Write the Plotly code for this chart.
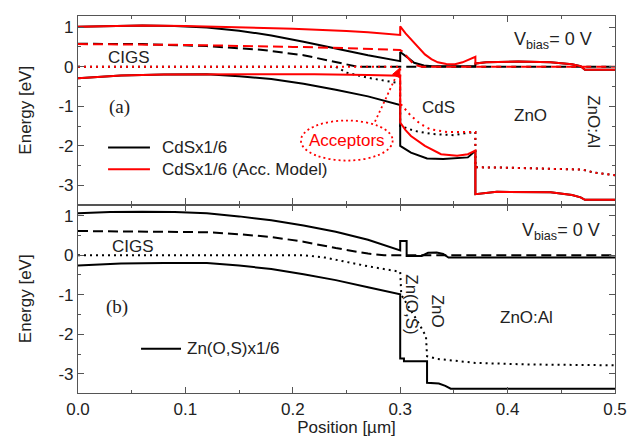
import plotly.graph_objects as go
from plotly.subplots import make_subplots

# ---------------- Panel (a): CdSx1/6 (black) ----------------
a_blk_ec_x = [0, 0.03, 0.06, 0.09, 0.12, 0.15, 0.18, 0.21, 0.24, 0.27, 0.30, 0.30, 0.307, 0.313, 0.322, 0.33, 0.37,
              0.37, 0.38, 0.41, 0.44, 0.46, 0.468, 0.472, 0.50]
a_blk_ec_y = [1.01, 1.03, 1.04, 1.03, 0.99, 0.91, 0.79, 0.63, 0.46, 0.29, 0.14, 0.37, 0.23, 0.10, 0.03, 0.01, 0.01,
              0.08, 0.11, 0.13, 0.11, 0.06, 0.01, -0.08, -0.08]
a_blk_dash_x = [0, 0.06, 0.12, 0.17, 0.21, 0.24, 0.255, 0.26, 0.50]
a_blk_dash_y = [0.58, 0.57, 0.52, 0.43, 0.29, 0.12, 0.02, 0.0, 0.0]
a_blk_dot_x = [0, 0.24, 0.25, 0.27, 0.30, 0.30, 0.305, 0.313, 0.33, 0.35, 0.36, 0.37, 0.37, 0.40, 0.47, 0.48, 0.50]
a_blk_dot_y = [0, 0, -0.15, -0.28, -0.42, -1.50, -1.54, -1.62, -1.70, -1.73, -1.68, -1.65, -2.54, -2.55, -2.60, -2.67, -2.74]
a_blk_ev_x = [0, 0.04, 0.08, 0.12, 0.15, 0.18, 0.21, 0.24, 0.27, 0.30, 0.30, 0.31, 0.325, 0.34, 0.363, 0.37,
              0.37, 0.39, 0.44, 0.46, 0.468, 0.472, 0.50]
a_blk_ev_y = [-0.29, -0.22, -0.20, -0.19, -0.24, -0.31, -0.43, -0.58, -0.75, -0.97, -2.00, -2.17, -2.32, -2.33, -2.29, -2.12,
              -3.22, -3.16, -3.17, -3.24, -3.30, -3.36, -3.36]

# ---------------- Panel (a): CdSx1/6 (Acc. Model) (red) ----------------
a_red_ec_x = [0, 0.03, 0.06, 0.10, 0.15, 0.20, 0.25, 0.27, 0.30, 0.30, 0.305, 0.31, 0.317, 0.323, 0.329, 0.335, 0.343,
              0.351, 0.358, 0.363, 0.37, 0.37, 0.38, 0.41, 0.44, 0.46, 0.468, 0.472, 0.50]
a_red_ec_y = [1.01, 1.03, 1.04, 1.03, 1.00, 0.96, 0.90, 0.87, 0.80, 1.02, 0.84, 0.69, 0.48, 0.31, 0.19, 0.11, 0.07,
              0.06, 0.11, 0.17, 0.25, 0.08, 0.11, 0.13, 0.11, 0.06, 0.01, -0.08, -0.08]
a_red_dash_x = [0, 0.10, 0.20, 0.25, 0.30, 0.303, 0.308, 0.313, 0.32, 0.50]
a_red_dash_y = [0.57, 0.55, 0.50, 0.47, 0.42, 0.37, 0.20, 0.05, 0.0, 0.0]
a_red_dot_x = [0, 0.30, 0.30, 0.31, 0.319, 0.328, 0.344, 0.37, 0.37, 0.40, 0.47, 0.48, 0.50]
a_red_dot_y = [0, 0, -0.93, -1.24, -1.45, -1.58, -1.65, -1.65, -2.54, -2.55, -2.60, -2.67, -2.74]
a_red_ev_x = [0, 0.04, 0.08, 0.15, 0.22, 0.27, 0.30, 0.30, 0.305, 0.31, 0.323, 0.338, 0.353, 0.363, 0.37,
              0.37, 0.39, 0.44, 0.46, 0.468, 0.472, 0.50]
a_red_ev_y = [-0.29, -0.22, -0.20, -0.19, -0.19, -0.21, -0.23, -1.41, -1.60, -1.75, -2.00, -2.21, -2.25, -2.21, -2.12,
              -3.22, -3.16, -3.17, -3.24, -3.30, -3.36, -3.36]

# ---------------- Panel (b): Zn(O,S)x1/6 (black) ----------------
b_ec_x = [0, 0.03, 0.06, 0.09, 0.12, 0.15, 0.18, 0.21, 0.24, 0.27, 0.30, 0.30, 0.306, 0.306, 0.32, 0.326, 0.334,
          0.34, 0.345, 0.50]
b_ec_y = [1.06, 1.09, 1.10, 1.09, 1.06, 0.98, 0.88, 0.75, 0.59, 0.39, 0.12, 0.36, 0.36, -0.02, -0.02, 0.06, 0.07,
          0.03, -0.06, -0.06]
b_dash_x = [0, 0.06, 0.12, 0.15, 0.18, 0.21, 0.24, 0.27, 0.285, 0.50]
b_dash_y = [0.61, 0.60, 0.58, 0.53, 0.46, 0.34, 0.18, 0.04, 0.0, 0.0]
b_dot_x = [0, 0.21, 0.23, 0.25, 0.27, 0.30, 0.301, 0.31, 0.318, 0.324, 0.325, 0.335, 0.37, 0.42, 0.50]
b_dot_y = [0, 0, -0.06, -0.17, -0.28, -0.42, -1.00, -1.40, -1.75, -2.05, -2.55, -2.62, -2.72, -2.76, -2.78]
b_ev_x = [0, 0.04, 0.08, 0.12, 0.15, 0.18, 0.21, 0.24, 0.27, 0.30, 0.30, 0.3035, 0.3035, 0.325, 0.325, 0.336,
          0.342, 0.347, 0.50]
b_ev_y = [-0.26, -0.21, -0.20, -0.20, -0.26, -0.35, -0.48, -0.63, -0.81, -0.99, -2.61, -2.61, -2.68, -2.68, -3.22,
          -3.24, -3.30, -3.37, -3.37]

x_ticks = [0.0, 0.1, 0.2, 0.3, 0.4, 0.5]
y_ticks = [-3, -2, -1, 0, 1]
y_ticktext = ["-3", "-2", "-1", "0", "1"]

BLACK = "#000000"
RED = "#ff0000"
DASH = "10px,5px"
DOT = "2px,4px"

fig = make_subplots(rows=2, cols=1, shared_xaxes=True, vertical_spacing=0)


def add(x, y, color, dash, row):
    fig.add_trace(go.Scatter(x=x, y=y, mode="lines", showlegend=False, hoverinfo="skip",
                             line=dict(color=color, width=2, dash=dash)), row=row, col=1)


# black first, red on top
add(a_blk_dot_x, a_blk_dot_y, BLACK, DOT, 1)
add(a_blk_dash_x, a_blk_dash_y, BLACK, DASH, 1)
add(a_blk_ec_x, a_blk_ec_y, BLACK, "solid", 1)
add(a_blk_ev_x, a_blk_ev_y, BLACK, "solid", 1)
add(a_red_dot_x, a_red_dot_y, RED, DOT, 1)
add(a_red_dash_x, a_red_dash_y, RED, DASH, 1)
add(a_red_ec_x, a_red_ec_y, RED, "solid", 1)
add(a_red_ev_x, a_red_ev_y, RED, "solid", 1)

add(b_dot_x, b_dot_y, BLACK, DOT, 2)
add(b_dash_x, b_dash_y, BLACK, DASH, 2)
add(b_ec_x, b_ec_y, BLACK, "solid", 2)
add(b_ev_x, b_ev_y, BLACK, "solid", 2)

FONT = "Liberation Sans, Arial, sans-serif"
AX = "#555555"

axis_common = dict(showline=True, linecolor=AX, linewidth=1.2, mirror="ticks", ticks="inside",
                   tickcolor=AX, ticklen=6, showgrid=False, zeroline=False,
                   tickfont=dict(family=FONT, size=17, color="#222"))

fig.update_xaxes(range=[0, 0.5], tickvals=x_ticks, tickformat=".1f",
                 minor=dict(ticks="inside", dtick=0.05, tick0=0, ticklen=3, tickcolor=AX), **axis_common)
fig.update_xaxes(showticklabels=False, row=1, col=1)
fig.update_xaxes(title=dict(text="Position [µm]", font=dict(family=FONT, size=17, color="#222"), standoff=3),
                 row=2, col=1)
fig.update_yaxes(range=[-3.48, 1.28], tickvals=y_ticks, ticktext=y_ticktext,
                 minor=dict(ticks="inside", dtick=0.5, tick0=0, ticklen=3, tickcolor=AX),
                 title=dict(text="Energy [eV]", font=dict(family=FONT, size=17, color="#222"), standoff=22),
                 **axis_common)

ann = []


def txt(x, y, s, ref, size=17, color="#222", angle=0, family=FONT, xanchor="center"):
    ann.append(dict(x=x, y=y, xref="x" if ref == 1 else "x2", yref="y" if ref == 1 else "y2", text=s,
                    showarrow=False, textangle=angle, xanchor=xanchor, yanchor="middle",
                    font=dict(family=family, size=size, color=color)))


# panel (a) labels
txt(0.0475, 0.23, "CIGS", 1)
txt(0.039, -1.03, "(a)", 1, size=19, family="Liberation Serif, Times New Roman, serif")
txt(0.336, -1.03, "CdS", 1)
txt(0.421, -1.23, "ZnO", 1)
txt(0.48, -1.39, "ZnO:Al", 1, angle=90)
txt(0.442, 0.65, "V<sub>bias</sub>= 0 V", 1, size=18)
txt(0.076, -2.04, "CdSx1/6", 1, xanchor="left")
txt(0.076, -2.59, "CdSx1/6 (Acc. Model)", 1, xanchor="left")
txt(0.25, -1.86, "Acceptors", 1, color=RED)

# panel (b) labels
txt(0.051, 0.21, "CIGS", 2)
txt(0.036, -1.30, "(b)", 2, size=19, family="Liberation Serif, Times New Roman, serif")
txt(0.311, -1.24, "Zn(O,S)", 2, angle=90)
txt(0.335, -1.42, "ZnO", 2, angle=90)
txt(0.418, -1.57, "ZnO:Al", 2)
txt(0.45, 0.59, "V<sub>bias</sub>= 0 V", 2, size=18)
txt(0.0996, -2.36, "Zn(O,S)x1/6", 2, xanchor="left")

fig.update_layout(annotations=ann)

shapes = [
    # legend samples
    dict(type="line", xref="x", yref="y", x0=0.028, x1=0.067, y0=-2.04, y1=-2.04, line=dict(color=BLACK, width=2)),
    dict(type="line", xref="x", yref="y", x0=0.028, x1=0.067, y0=-2.59, y1=-2.59, line=dict(color=RED, width=2)),
    dict(type="line", xref="x2", yref="y2", x0=0.0587, x1=0.0959, y0=-2.36, y1=-2.36,
         line=dict(color=BLACK, width=2)),
    # acceptors ellipse, pointer and arrow head
    dict(type="circle", xref="x", yref="y", x0=0.2076, x1=0.293, y0=-2.37, y1=-1.36,
         line=dict(color=RED, width=1.8, dash="2px,3px")),
    dict(type="line", xref="x", yref="y", x0=0.2765, y0=-1.39, x1=0.2963, y1=-0.237,
         line=dict(color=RED, width=1.8, dash="2px,3px")),
    dict(type="path", xref="x", yref="y", path="M 0.2998,-0.03 L 0.2996,-0.279 L 0.2929,-0.194 Z",
         fillcolor=RED, line=dict(color=RED, width=1)),
]

fig.update_layout(width=638, height=439, margin=dict(l=70, r=31, t=8, b=54),
                  plot_bgcolor="white", paper_bgcolor="white", shapes=shapes,
                  font=dict(family=FONT))

fig.write_html("out.html")
